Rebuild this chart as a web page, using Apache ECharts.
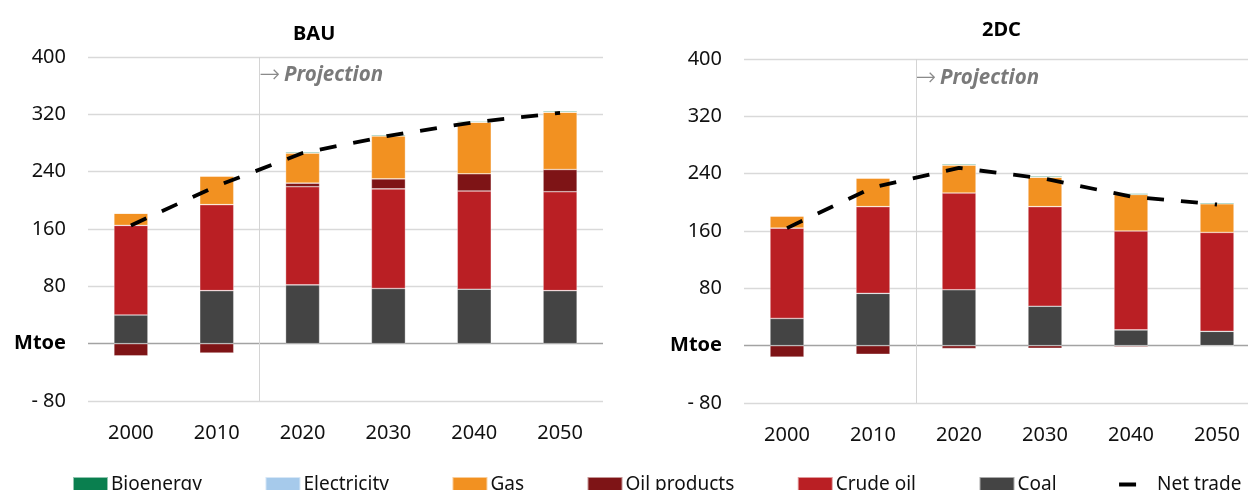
<!DOCTYPE html>
<html>
<head>
<meta charset="utf-8">
<script src="https://cdn.jsdelivr.net/npm/echarts@6/dist/echarts.min.js"></script>
<style>
  html, body { margin: 0; padding: 0; background: #fff; }
  #chart { width: 1248px; height: 490px; }
</style>
</head>
<body>
<div id="chart"></div>
<script>
// categories and tick range
const years = ['2000', '2010', '2020', '2030', '2040', '2050']
const yTicks = [-80, 0, 80, 160, 240, 320, 400]
// projections begin at the boundary before the 3rd category (band units)
const projectionStart = 2

// BAU scenario (Mtoe)
const bauCoal = [40, 74, 82, 77, 76, 74]
const bauCrude = [125, 120, 137, 139, 137, 138]
const bauOilProducts = [-17, -13, 5, 14, 24, 31]
const bauGas = [17, 40, 42, 60, 72, 80]
const bauElectricity = [0, 0, 0, 0, 0, 0]
const bauBio = [0, 0, 1.5, 1.5, 1, 1.5]
const bauNet = [165, 220, 266, 290, 309, 322]

// 2DC scenario (Mtoe)
const dcCoal = [38, 73, 78, 55, 22, 20]
const dcCrude = [126, 121, 135, 139, 138, 138]
const dcOilProducts = [-16, -12, -4, -3.5, -1.5, -0.5]
const dcGas = [17, 40, 39, 41, 51, 40]
const dcElectricity = [0, 0, 0, 0, 0, 0]
const dcBio = [0, 0, 1.5, 1.5, 1.5, 1.5]
const dcNet = [164, 221, 248, 233, 208, 197]

const FONT = 'Noto Sans'
const colors = {
  Bioenergy: '#0A7F4F',
  Electricity: '#A6CAEB',
  Gas: '#F29121',
  'Oil products': '#7E1416',
  'Crude oil': '#BA1F24',
  Coal: '#444444',
}

function barSeries(name, data, idx, stack) {
  return {
    name: name,
    type: 'bar',
    stack: stack,
    xAxisIndex: idx,
    yAxisIndex: idx,
    barWidth: 34,
    itemStyle: {
      color: colors[name],
      borderColor: 'rgba(255,255,255,0.55)',
      borderWidth: 0.6,
    },
    data: data,
  }
}

function netSeries(data, idx) {
  return {
    name: 'Net trade',
    type: 'line',
    xAxisIndex: idx,
    yAxisIndex: idx,
    symbol: 'none',
    color: '#000',
    lineStyle: { color: '#000', width: 3.8, type: [17, 17] },
    z: 5,
    data: data,
  }
}

// vertical "projection" divider drawn on a hidden band-unit axis
function dividerSeries(xIdx, yIdx) {
  return {
    type: 'line',
    xAxisIndex: xIdx,
    yAxisIndex: yIdx,
    data: [],
    silent: true,
    markLine: {
      symbol: 'none',
      silent: true,
      animation: false,
      label: { show: false },
      lineStyle: { color: '#d4d4d4', type: 'solid', width: 1 },
      data: [{ xAxis: projectionStart }],
    },
  }
}

function xAxis(idx) {
  return {
    type: 'category',
    gridIndex: idx,
    data: years,
    axisLine: { show: false, onZero: false },
    axisTick: { show: false },
    axisLabel: { fontFamily: FONT, fontSize: 20, color: '#111', margin: 22 },
    splitLine: { show: false },
  }
}

function bandAxis(idx) {
  return {
    type: 'value',
    gridIndex: idx,
    min: 0,
    max: years.length,
    show: false,
  }
}

function yAxis(idx) {
  return {
    type: 'value',
    gridIndex: idx,
    min: yTicks[0],
    max: yTicks[yTicks.length - 1],
    interval: 80,
    axisLine: { show: false },
    axisTick: { show: false },
    axisLabel: {
      fontFamily: FONT,
      fontSize: 20,
      color: '#111',
      margin: 22,
      formatter: function (v) {
        if (v === 0) return '{b|Mtoe}'
        if (v < 0) return '- ' + (-v)
        return String(v)
      },
      rich: { b: { fontFamily: FONT, fontSize: 20, fontWeight: 'bold', color: '#000' } },
    },
    splitLine: {
      lineStyle: {
        color: ['#d9d9d9', '#a3a3a3', '#d9d9d9', '#d9d9d9', '#d9d9d9', '#d9d9d9', '#d9d9d9'],
        width: 1.3,
      },
    },
  }
}

function projection(left, top) {
  return {
    type: 'text',
    left: left,
    top: top,
    style: {
      text: '{a|→}{b|Projection}',
      rich: {
        a: { fontFamily: 'DejaVu Sans', fontSize: 25, fill: '#8a8a8a', fontWeight: 'lighter', padding: [0, 4, 0, 0] },
        b: { fontFamily: FONT, fontSize: 20.5, fill: '#7a7a7a', fontWeight: 'bold', fontStyle: 'italic' },
      },
    },
  }
}

const option = {
  animation: false,
  title: [
    { text: 'BAU', left: 288, top: 19, textStyle: { fontFamily: FONT, fontSize: 20, fontWeight: 'bold', color: '#000' } },
    { text: '2DC', left: 977, top: 15, textStyle: { fontFamily: FONT, fontSize: 20, fontWeight: 'bold', color: '#000' } },
  ],
  legend: {
    left: 72,
    top: 475,
    padding: 0,
    itemGap: 62.5,
    itemWidth: 35,
    itemHeight: 15,
    textStyle: { fontFamily: FONT, fontSize: 19, color: '#111', padding: [0, 0, 0, -2] },
    data: [
      { name: 'Bioenergy', icon: 'rect' },
      { name: 'Electricity', icon: 'rect' },
      { name: 'Gas', icon: 'rect' },
      { name: 'Oil products', icon: 'rect' },
      { name: 'Crude oil', icon: 'rect' },
      { name: 'Coal', icon: 'rect' },
      { name: 'Net trade', icon: 'path://M0,0M35,15M0,5.5h17v4h-17z' },
    ],
  },
  grid: [
    { left: 88, top: 57, width: 515, height: 344, outerBoundsMode: 'none' },
    { left: 744, top: 59, width: 516, height: 344, outerBoundsMode: 'none' },
  ],
  xAxis: [xAxis(0), xAxis(1), bandAxis(0), bandAxis(1)],
  yAxis: [yAxis(0), yAxis(1)],
  graphic: [projection(259, 63), projection(915, 66)],
  series: [
    barSeries('Coal', bauCoal, 0, 'bau'),
    barSeries('Crude oil', bauCrude, 0, 'bau'),
    barSeries('Oil products', bauOilProducts, 0, 'bau'),
    barSeries('Gas', bauGas, 0, 'bau'),
    barSeries('Electricity', bauElectricity, 0, 'bau'),
    barSeries('Bioenergy', bauBio, 0, 'bau'),
    netSeries(bauNet, 0),
    barSeries('Coal', dcCoal, 1, 'dc'),
    barSeries('Crude oil', dcCrude, 1, 'dc'),
    barSeries('Oil products', dcOilProducts, 1, 'dc'),
    barSeries('Gas', dcGas, 1, 'dc'),
    barSeries('Electricity', dcElectricity, 1, 'dc'),
    barSeries('Bioenergy', dcBio, 1, 'dc'),
    netSeries(dcNet, 1),
    dividerSeries(2, 0),
    dividerSeries(3, 1),
  ],
}

const myChart = echarts.init(document.getElementById('chart'))
myChart.setOption(option)
</script>
</body>
</html>
